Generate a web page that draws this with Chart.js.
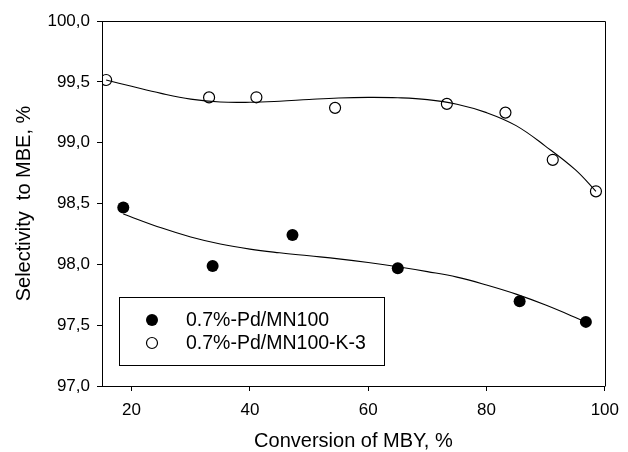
<!DOCTYPE html>
<html>
<head>
<meta charset="utf-8">
<script src="https://cdn.jsdelivr.net/npm/chart.js@4"></script>
<style>
html,body{margin:0;padding:0;background:#fff;}
canvas{display:block;}
</style>
</head>
<body>
<canvas id="c" width="628" height="452"></canvas>
<script>
// ---- data ----
const seriesNames = ['0.7%-Pd/MN100', '0.7%-Pd/MN100-K-3'];

const pdX = [18.6, 33.7, 47.2, 65.0, 85.6, 96.8];
const pdY = [98.468, 97.987, 98.241, 97.968, 97.696, 97.527];

const kX = [15.7, 33.1, 41.1, 54.4, 73.3, 83.2, 91.2, 98.5];
const kY = [99.515, 99.372, 99.373, 99.286, 99.319, 99.247, 98.859, 98.600];

// fitted trend curves
const pdFitX = [18.6, 25, 30, 35, 40, 45, 50, 55, 60, 65, 70, 75, 80, 85, 90, 96.8];
const pdFitY = [98.414, 98.300, 98.225, 98.167, 98.125, 98.095, 98.070, 98.045, 98.015, 97.980, 97.940, 97.895, 97.830, 97.755, 97.665, 97.527];

const kFitX = [15.7, 20, 25, 30, 35, 40, 45, 50, 55, 60, 65, 70, 75, 80, 85, 90, 95, 98.5];
const kFitY = [99.515, 99.463, 99.405, 99.358, 99.334, 99.332, 99.341, 99.355, 99.367, 99.372, 99.369, 99.354, 99.316, 99.247, 99.140, 98.970, 98.778, 98.600];

const xTickValues = [20, 40, 60, 80, 100];
const yTickValues = [97.0, 97.5, 98.0, 98.5, 99.0, 99.5, 100.0];
const yTickLabels = ['97,0', '97,5', '98,0', '98,5', '99,0', '99,5', '100,0'];

const xTitle = 'Conversion of MBY, %';
const yTitle = 'Selectivity  to MBE, %';

// ---- build ----
const pts = (xs, ys) => xs.map((x, i) => ({x: x, y: ys[i]}));
const FONT = "'Liberation Sans', Arial, sans-serif";

const framePlugin = {
  id: 'frame',
  afterDraw(chart) {
    const {ctx, chartArea: a} = chart;
    ctx.save();
    ctx.strokeStyle = '#000';
    ctx.lineWidth = 1;
    ctx.beginPath();
    ctx.moveTo(Math.round(a.left) + 0.5, Math.round(a.top) + 0.5);
    ctx.lineTo(Math.round(a.right) + 0.5, Math.round(a.top) + 0.5);
    ctx.lineTo(Math.round(a.right) + 0.5, Math.round(a.bottom) + 0.5);
    ctx.stroke();
    ctx.restore();
  }
};

const legendPlugin = {
  id: 'boxLegend',
  afterDraw(chart) {
    const ctx = chart.ctx;
    const x0 = 119.5, y0 = 297.5, w = 265, h = 68;
    ctx.save();
    ctx.fillStyle = '#fff';
    ctx.fillRect(x0, y0, w, h);
    ctx.strokeStyle = '#000';
    ctx.lineWidth = 1;
    ctx.strokeRect(x0, y0, w, h);
    const rows = [{y: 320, filled: true}, {y: 343, filled: false}];
    ctx.font = '19.5px ' + FONT;
    ctx.textBaseline = 'middle';
    ctx.textAlign = 'left';
    rows.forEach((r, i) => {
      ctx.beginPath();
      ctx.arc(152, r.y, r.filled ? 6 : 5.5, 0, Math.PI * 2);
      if (r.filled) { ctx.fillStyle = '#000'; ctx.fill(); }
      else { ctx.fillStyle = '#fff'; ctx.fill(); ctx.lineWidth = 1.2; ctx.strokeStyle = '#000'; ctx.stroke(); }
      ctx.fillStyle = '#000';
      ctx.fillText(chart.data.datasets[i].label, 186, r.y + 1);
    });
    ctx.restore();
  }
};

new Chart(document.getElementById('c'), {
  type: 'scatter',
  data: {
    datasets: [
      {label: seriesNames[0], data: pts(pdX, pdY), showLine: false,
       pointRadius: 6, pointHoverRadius: 6, pointBackgroundColor: '#000', pointBorderColor: '#000', pointBorderWidth: 0, order: 1},
      {label: seriesNames[1], data: pts(kX, kY), showLine: false,
       pointRadius: 5.5, pointHoverRadius: 5.5, pointBackgroundColor: 'rgba(255,255,255,0)', pointBorderColor: '#000', pointBorderWidth: 1.2, order: 1},
      {label: 'fit1', data: pts(pdFitX, pdFitY), showLine: true, pointRadius: 0,
       borderColor: '#000', borderWidth: 1.1, tension: 0.4, fill: false, order: 2},
      {label: 'fit2', data: pts(kFitX, kFitY), showLine: true, pointRadius: 0,
       borderColor: '#000', borderWidth: 1.1, tension: 0.4, fill: false, order: 2}
    ]
  },
  options: {
    responsive: false,
    animation: false,
    devicePixelRatio: 1,
    layout: {padding: {top: 21, right: 21, left: 0, bottom: 0}},
    plugins: {legend: {display: false}, tooltip: {enabled: false}},
    scales: {
      x: {
        type: 'linear', min: 15, max: 100,
        afterBuildTicks(scale) { scale.ticks = xTickValues.map(v => ({value: v})); },
        afterFit(scale) { scale.height = 66; },
        grid: {display: true, drawOnChartArea: false, drawTicks: true, tickLength: 5, color: '#000', lineWidth: 1},
        border: {display: true, color: '#000', width: 1},
        ticks: {color: '#000', font: {family: FONT, size: 17}, padding: 9, maxRotation: 0,
                callback: v => String(v)},
        title: {display: true, text: xTitle, color: '#000', font: {family: FONT, size: 20, lineHeight: 1.1}, padding: {top: 0, bottom: 0}}
      },
      y: {
        type: 'linear', min: 97, max: 100,
        afterBuildTicks(scale) { scale.ticks = yTickValues.map(v => ({value: v})); },
        afterFit(scale) { scale.width = 102; },
        grid: {display: true, drawOnChartArea: false, drawTicks: true, tickLength: 5, color: '#000', lineWidth: 1},
        border: {display: true, color: '#000', width: 1},
        ticks: {color: '#000', font: {family: FONT, size: 17}, padding: 7,
                callback: (v) => { const i = yTickValues.findIndex(t => Math.abs(t - v) < 1e-6); return i >= 0 ? yTickLabels[i] : ''; }},
        title: {display: true, text: yTitle, color: '#000', font: {family: FONT, size: 20, lineHeight: 1.1}, padding: {top: 13, bottom: 0}}
      }
    }
  },
  plugins: [framePlugin, legendPlugin]
});
</script>
</body>
</html>
